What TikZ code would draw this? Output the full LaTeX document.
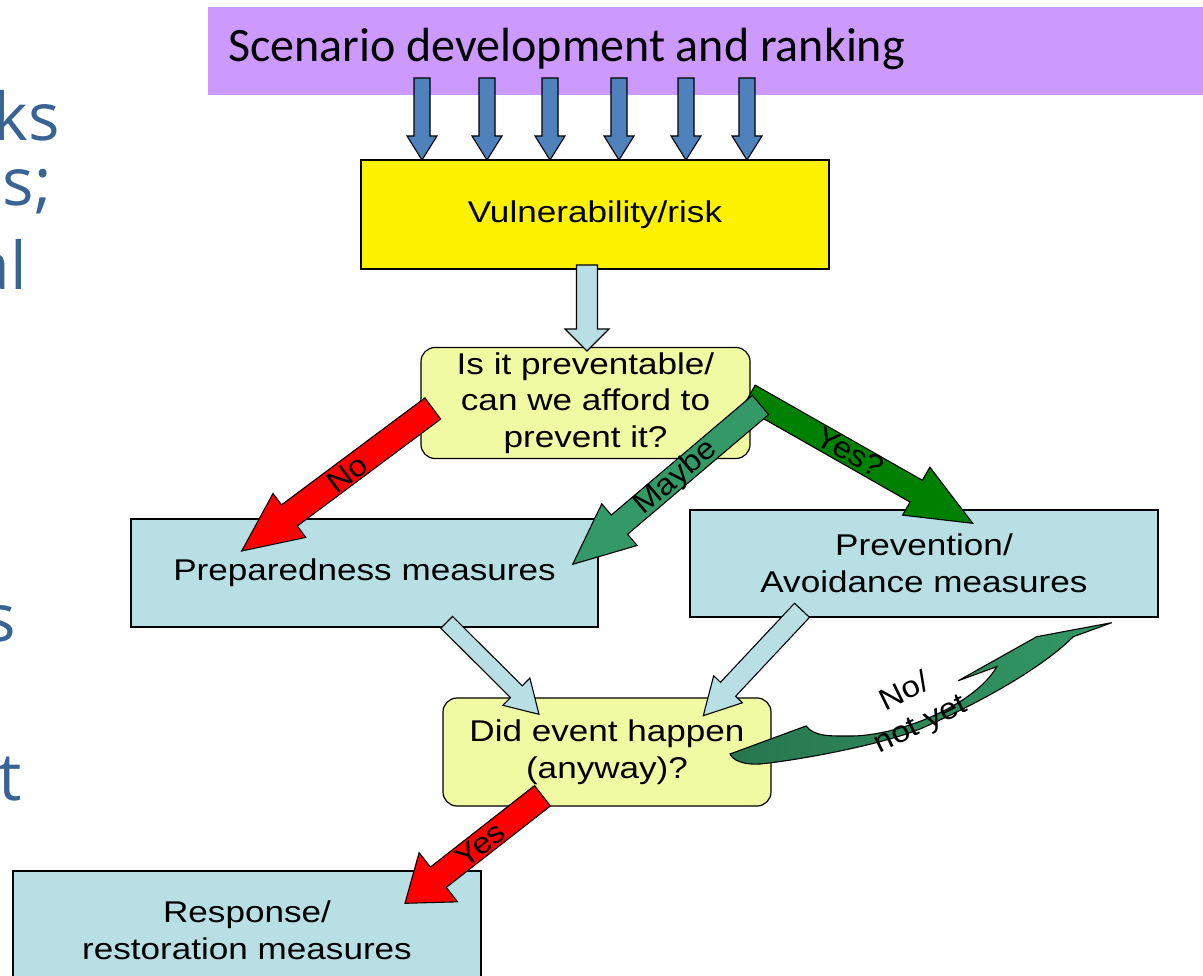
\documentclass[tikz,border=0pt]{standalone}
\usepackage{fontspec}
\usetikzlibrary{calc}
\newfontfamily\boxfont{Liberation Sans}[FakeStretch=1.17]
\newfontfamily\lblfont{Liberation Sans}[FakeStretch=1.1]
\newfontfamily\titlefont{Carlito}
\newfontfamily\slidefont{Open Sans}
\definecolor{bannerc}{RGB}{204,153,255}
\definecolor{boxblue}{RGB}{183,223,228}
\definecolor{decfill}{RGB}{240,250,162}
\definecolor{arrowblue}{RGB}{79,129,189}
\definecolor{yesgreen}{RGB}{0,128,0}
\definecolor{maybegreen}{RGB}{51,153,102}
\definecolor{darkgreen}{RGB}{40,118,78}
\definecolor{slideblue}{RGB}{58,99,149}
% #1 style, #2 start, #3 tip, #4 half shaft width, #5 half head width, #6 head length
\newcommand{\blockarrow}[6][]{%
  \coordinate (bac) at ($(#3)!#6!(#2)$);
  \draw[#1] ($(#2)!#4!90:(#3)$) -- ($(bac)!#4!90:(#3)$) -- ($(bac)!#5!90:(#3)$) -- (#3)
    -- ($(bac)!#5!-90:(#3)$) -- ($(bac)!#4!-90:(#3)$) -- ($(#2)!#4!-90:(#3)$) -- cycle;
}
\begin{document}
\begin{tikzpicture}[x=1pt,y=-1pt,
  box/.style={draw=black, line width=1.2pt, fill=boxblue, inner sep=0pt, align=center,
    font=\boxfont\fontsize{30}{36.5}\selectfont},
  decision/.style={box, fill=decfill, rounded corners=14pt},
  arrowline/.style={draw=black, line width=1.1pt, line join=miter},
  bluearrow/.style={arrowline, fill=arrowblue},
  paleblue/.style={arrowline, fill=boxblue},
  redarrow/.style={arrowline, fill=red},
  yesarrow/.style={arrowline, fill=yesgreen},
  maybearrow/.style={arrowline, fill=maybegreen},
  lbl/.style={font=\lblfont\fontsize{30}{36}\selectfont, inner sep=0pt, align=center},
  frag/.style={font=\slidefont\fontsize{66}{76}\selectfont, text=slideblue, inner sep=0pt, anchor=base east}]
\useasboundingbox (0,0) rectangle (1203,976);
\clip (0,0) rectangle (1203,976);

% left slide text fragments
\node[frag] (f1) at (60,141) {ks};
\node[frag] (f2) at (52,206) {s;};
\node[frag] (f3) at (27,290) {al};
\node[frag] (f4) at (16,641) {s};
\node[frag] (f5) at (22,800) {t};

% banner
\node[fill=bannerc, inner sep=0pt, minimum width=995pt, minimum height=88pt, anchor=north west] (banner) at (208,7) {};
\node[anchor=base west, inner sep=0pt, font=\titlefont\fontsize{48}{58}\selectfont] (title) at (228,62) {Scenario development and ranking};

% boxes
\node[box, fill=yellow, minimum width=468pt, minimum height=109pt] (vuln) at (595,214.5) {Vulnerability/risk};
\node[decision, minimum width=329pt, minimum height=111pt] (dec1) at (585.5,403) {Is it preventable/\\can we afford to\\prevent it?};
\node[box, minimum width=467pt, minimum height=108pt] (prep) at (364.5,573) {Preparedness measures};
\node[box, minimum width=468pt, minimum height=107pt] (prev) at (924,563.5) {Prevention/\\Avoidance measures};
\node[decision, minimum width=328pt, minimum height=108pt] (dec2) at (607,752) {Did event happen\\(anyway)?};
\node[box, minimum width=468pt, minimum height=119pt] (resp) at (247,930.5) {Response/\\restoration measures};

% arrows from banner to vulnerability box
\foreach \i/\x in {1/422,2/487,3/550,4/619,5/686,6/747}{
  \coordinate (bs\i) at (\x,78);
  \coordinate (be\i) at (\x,160);
  \blockarrow[bluearrow]{bs\i}{be\i}{8pt}{15pt}{24pt}
}

% vulnerability -> decision 1
\coordinate (v-s) at (587,265);
\coordinate (v-e) at (587,351);
\blockarrow[paleblue]{v-s}{v-e}{10.5pt}{22pt}{22pt}

% decision 1 branches
\coordinate (yes1-s) at (749,396);
\coordinate (yes1-e) at (972.7,523.3);
\blockarrow[yesarrow]{yes1-s}{yes1-e}{12.5pt}{27.6pt}{65pt}
\coordinate (no1-s) at (432.8,408.5);
\coordinate (no1-e) at (241.7,551);
\blockarrow[redarrow]{no1-s}{no1-e}{13.2pt}{27.4pt}{59.5pt}
\coordinate (may-s) at (760.5,405);
\coordinate (may-e) at (572.7,564.3);
\blockarrow[maybearrow]{may-s}{may-e}{12.6pt}{27.3pt}{61.3pt}

% measures -> decision 2
\coordinate (pd-s) at (446.7,622.3);
\coordinate (pd-e) at (539,714.3);
\blockarrow[paleblue]{pd-s}{pd-e}{8.3pt}{19.2pt}{32pt}
\coordinate (vd-s) at (802,610.3);
\coordinate (vd-e) at (703.3,715.7);
\blockarrow[paleblue]{vd-s}{vd-e}{10.3pt}{19.7pt}{36.2pt}

% curved "No / not yet" arrow from decision 2 back up to prevention
\coordinate (cv-s) at (730,754);
\coordinate (cv-e) at (1111.7,622.7);
\draw[arrowline, left color=darkgreen, right color=maybegreen]
  (cv-s) -- (806,726)
  .. controls (815,737) and (830,736) .. (853.3,736)
  .. controls (900,735) and (975,705) .. (996.7,666.7)
  -- (958.3,680.7) -- (1036.7,636.7) -- (cv-e) -- (1073.3,636.7)
  .. controls (1040,670) and (975,705) .. (920,729)
  .. controls (880,745) and (800,760) .. (760,764)
  .. controls (742,765) and (733,760) .. (cv-s) -- cycle;

% decision 2 -> response
\coordinate (yes2-s) at (542.5,795.8);
\coordinate (yes2-e) at (405,903.3);
\blockarrow[redarrow]{yes2-s}{yes2-e}{12.9pt}{31.2pt}{42.3pt}

% labels
\node[lbl, rotate=36.7] (lno) at (347,474) {No};
\node[lbl, rotate=40.3] (lmaybe) at (676,478) {Maybe};
\node[lbl, rotate=-29.4] (lyesq) at (850,452) {Yes?};
\node[lbl, rotate=38] (lyes) at (480,845) {Yes};
\node[lbl, rotate=26] (lnot) at (913,709) {No/\\not yet};
\end{tikzpicture}
\end{document}
